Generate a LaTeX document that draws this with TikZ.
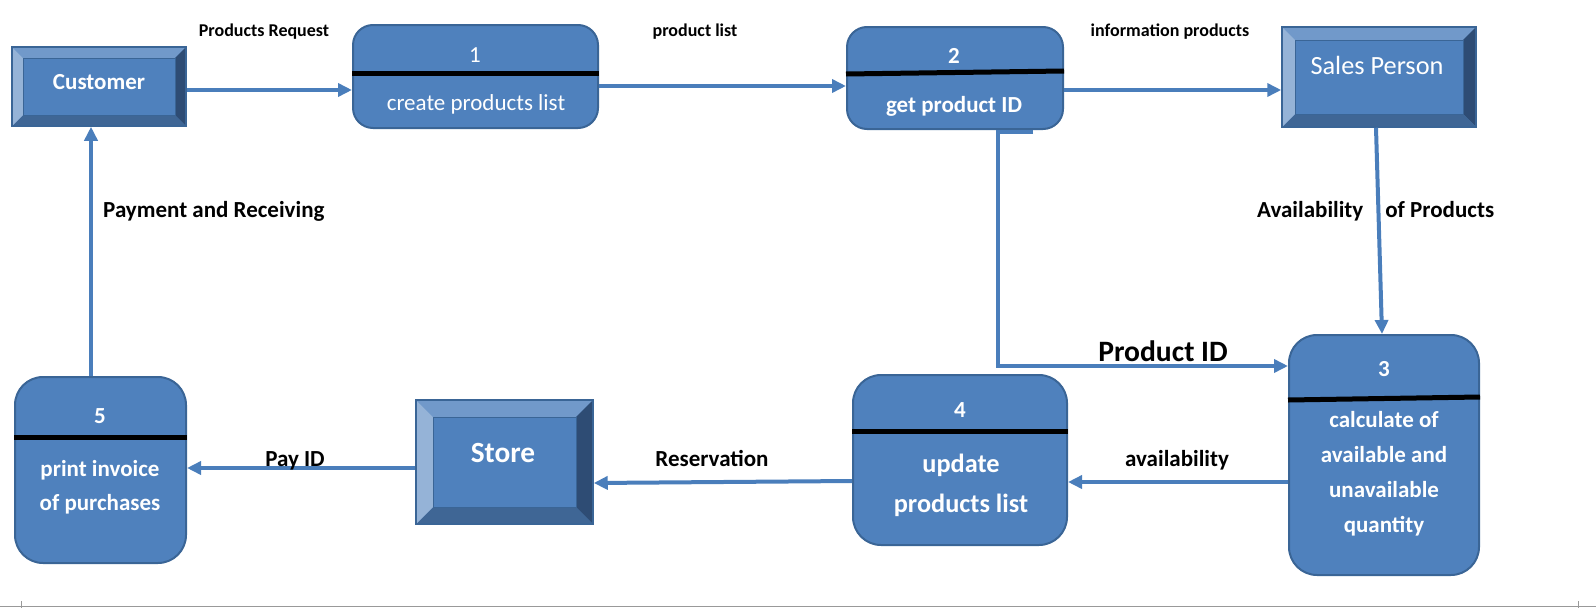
\documentclass[tikz,border=0pt]{standalone}
\usepackage{fontspec}
\setmainfont{Carlito}
\usetikzlibrary{arrows.meta, positioning}
\definecolor{boxblue}{HTML}{4F81BD}
\definecolor{boxedge}{HTML}{3A6596}
\definecolor{flowblue}{HTML}{4A7EBB}
\definecolor{bevtop}{HTML}{7199CA}
\definecolor{bevleft}{HTML}{95B3D7}
\definecolor{bevright}{HTML}{2E4C74}
\definecolor{bevbottom}{HTML}{3F6695}
\tikzset{
flow/.style={draw=flowblue, line width=4pt, -{Triangle[length=14pt, width=13pt]}}, % the data flows
proc/.style={draw=boxedge, fill=boxblue, line width=2pt, rounded corners=#1, inner sep=0pt}, % rounded process boxes
divider/.style={black, line width=5pt}, % the bar under the process number
extbox/.style={draw=boxedge, fill=boxblue, line width=1.5pt, inner sep=0pt,
  path picture={
    \path (path picture bounding box.north west) coordinate (o1)
          (path picture bounding box.north east) coordinate (o2)
          (path picture bounding box.south east) coordinate (o3)
          (path picture bounding box.south west) coordinate (o4);
    \path ([shift={(#1pt,-#1pt)}]o1) coordinate (i1)
          ([shift={(-#1pt,-#1pt)}]o2) coordinate (i2)
          ([shift={(-#1pt,#1pt)}]o3) coordinate (i3)
          ([shift={(#1pt,#1pt)}]o4) coordinate (i4);
    \fill[bevtop] (o1) -- (o2) -- (i2) -- (i1) -- cycle;
    \fill[bevright] (o2) -- (o3) -- (i3) -- (i2) -- cycle;
    \fill[bevbottom] (o3) -- (o4) -- (i4) -- (i3) -- cycle;
    \fill[bevleft] (o4) -- (o1) -- (i1) -- (i4) -- cycle;
    \draw[boxedge, line width=0.8pt] (i1) rectangle (i3);
  }}, % bevelled boxes for the external entities
boxtext/.style={text=white, inner sep=0pt, align=center, font=\fontsize{23}{33}\selectfont\bfseries}, % white text in the boxes
flowlabel/.style={inner sep=0pt, anchor=base, font=\fontsize{23}{28}\selectfont\bfseries}, % labels of the flows
smalllabel/.style={inner sep=0pt, anchor=base, font=\fontsize{18}{22}\selectfont\bfseries}, % labels along the top row
}
\begin{document}
\begin{tikzpicture}[x=1pt, y=-1pt]
  \useasboundingbox (0,0) rectangle (1596,608);
  % external entities
  \node[extbox=11, minimum width=174pt, minimum height=79pt] (cust) at (99,86.5) {};
  \node[extbox=13, minimum width=194pt, minimum height=100pt] (sales) at (1379,77) {};
  \node[extbox=17, minimum width=177pt, minimum height=124pt] (store) at (504.5,462) {};
  \node[boxtext, anchor=base] (custtxt) at (99,89) {Customer};
  \node[boxtext, anchor=base, font=\fontsize{26.3}{30}\selectfont] (salestxt) at (1377,74) {Sales Person};
  \node[boxtext, anchor=base, font=\fontsize{29.3}{34}\selectfont\bfseries] (storetxt) at (503,462) {Store};
  % processes
  \node[proc=20, minimum width=245pt, minimum height=103pt] (p1) at (475.5,76.5) {};
  \node[proc=20, minimum width=216pt, minimum height=102pt] (p2) at (955,78) {};
  \node[proc=28, minimum width=190pt, minimum height=240pt] (p3) at (1384,455) {};
  \node[proc=28, minimum width=214pt, minimum height=170pt] (p4) at (960,460) {};
  \node[proc=28, minimum width=171pt, minimum height=186pt] (p5) at (100.5,470) {};
  \draw[divider] (p1.west |- 0,73) -- (p1.east |- 0,73);
  \draw[divider] (p2.west |- 0,74) -- (p2.east |- 0,71);
  \draw[divider] (p3.west |- 0,400) -- (p3.east |- 0,397);
  \draw[divider] (p4.west |- 0,431) -- (p4.east |- 0,431);
  \draw[divider] (p5.west |- 0,437) -- (p5.east |- 0,437);
  \node[boxtext, anchor=base, font=\fontsize{23}{28}\selectfont] (p1num) at (475,62) {1};
  \node[boxtext, anchor=base, font=\fontsize{23}{28}\selectfont] (p1txt) at (476,110) {create products list};
  \node[boxtext, anchor=base] (p2num) at (954,63) {2};
  \node[boxtext, anchor=base] (p2txt) at (954,112) {get product ID};
  \node[boxtext, anchor=base] (p3num) at (1384,376) {3};
  \node[boxtext, font=\fontsize{23}{35}\selectfont\bfseries] (p3txt) at (1384,474) {calculate of\\available and\\unavailable\\quantity};
  \node[boxtext, anchor=base] (p4num) at (960,417) {4};
  \node[boxtext, font=\fontsize{26.3}{40}\selectfont\bfseries] (p4txt) at (961,485) {update\\products list};
  \node[boxtext, anchor=base] (p5num) at (100,423) {5};
  \node[boxtext, font=\fontsize{23}{33.6}\selectfont\bfseries] (p5txt) at (100,487) {print invoice\\of purchases};
  % flows
  \draw[flow] (cust.east |- 0,90) -- (p1.west |- 0,90);
  \draw[flow] (p1.east |- 0,86) -- (p2.west |- 0,86);
  \draw[flow] (p2.east |- 0,90) -- (sales.west |- 0,90);
  \draw[flow] (p2.south) ++(78,2) -- ++(-35,0) |- (p3.west |- 0,366);
  \draw[flow] ([xshift=-3pt]sales.south) -- ([xshift=-2pt]p3.north);
  \draw[flow] (p3.west |- 0,482) -- (p4.east |- 0,482);
  \draw[flow] (p4.west |- 0,481) -- (store.east |- 0,483);
  \draw[flow] (store.west |- 0,468) -- (p5.east |- 0,468);
  \draw[flow] (p5.north -| 91,0) -- (cust.south -| 91,0);
  % flow labels
  \node[smalllabel] (reqlbl) at (264,36) {Products Request};
  \node[smalllabel] (listlbl) at (695,36) {product list};
  \node[smalllabel] (infolbl) at (1170,36) {information products};
  \node[flowlabel, anchor=base west] (paylbl) at (103,217) {Payment and Receiving};
  \node[flowlabel, anchor=base west] (availlbl) at (1257,217) {Availability\hspace{22pt}of Products};
  \node[flowlabel, font=\fontsize{29.6}{34}\selectfont\bfseries] (idlbl) at (1163,361) {Product ID};
  \node[flowlabel] (qtylbl) at (1177,466) {availability};
  \node[flowlabel] (reslbl) at (712,466) {Reservation};
  \node[flowlabel] (payidlbl) at (295,466) {Pay ID};
  % page edge
  \draw[gray!80, line width=1pt] (0,606) -- (1596,606);
  \draw[gray!80, line width=0.8pt] (21,601) -- (21,608) (1578,601) -- (1578,608);
\end{tikzpicture}
\end{document}
